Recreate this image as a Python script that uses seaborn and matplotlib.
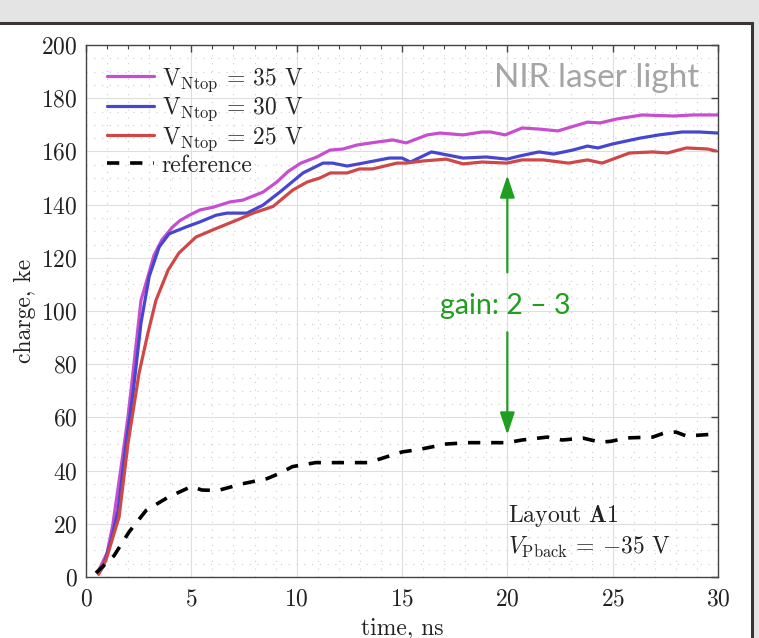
import numpy as np
import pandas as pd
import seaborn as sns
import matplotlib.pyplot as plt
from matplotlib.patches import Rectangle
from matplotlib.ticker import MultipleLocator

# charge vs time (time in ns, charge in ke)
t_35 = [0.57, 1.0, 1.27, 1.66, 1.99, 2.23, 2.61, 2.94, 3.23, 3.6, 4.1, 4.46, 4.9, 5.41, 6.03, 6.83,
        7.45, 8.4, 9.06, 9.6, 10.2, 10.96, 11.58, 12.2, 12.86, 13.8, 14.57, 15.2, 16.2, 16.8, 17.9,
        18.8, 19.2, 19.9, 20.7, 21.5, 22.4, 23.8, 24.4, 25.2, 26.4, 27.9, 28.8, 30.0]
q_35 = [2, 9, 19.5, 41, 60, 76.7, 104, 113, 121, 126.7, 131.5, 134, 136, 138, 139, 141,
        141.7, 144.7, 148.5, 152.5, 155.6, 157.9, 160.5, 160.9, 162.4, 163.5, 164.3, 163.2, 166.2, 166.9, 166.2,
        167.3, 167.3, 166.2, 168.8, 168.4, 167.7, 171, 170.7, 172.2, 173.7, 173.3, 173.7, 173.7]

t_30 = [0.6, 0.81, 1.2, 1.52, 1.9, 2.23, 2.61, 3.0, 3.47, 3.94, 4.75, 5.41, 6.17, 6.69, 7.64, 8.4,
        9.2, 10.3, 11.25, 11.7, 12.4, 13.15, 14.4, 15.0, 15.4, 16.4, 17.9, 19.0, 19.98, 20.6, 21.5,
        22.2, 23.1, 23.8, 24.3, 25.0, 26.3, 27.2, 28.3, 29.1, 30.0]
q_30 = [1.5, 3.8, 14, 25, 50, 69, 95.5, 113, 124, 129, 131.6, 133.5, 136, 136.8, 136.8, 139.8,
        144.7, 151.9, 155.6, 155.6, 154.5, 155.6, 157.5, 157.5, 156, 159.8, 157.5, 157.9, 157.1, 158.3, 159.8,
        159, 160.5, 162, 161.3, 162.8, 165, 166.2, 167.3, 167.3, 166.9]

t_25 = [0.6, 0.95, 1.57, 1.99, 2.52, 2.94, 3.32, 3.9, 4.41, 5.22, 6.17, 7.17, 7.93, 8.88, 9.82, 10.5,
        11.1, 11.6, 12.4, 12.98, 13.6, 14.76, 15.2, 16.0, 17.1, 17.9, 18.8, 19.98, 20.7, 21.7, 22.9,
        23.8, 24.5, 25.8, 26.9, 27.6, 28.5, 29.5, 29.9]
q_25 = [1, 6.4, 22.6, 50, 76.7, 91.7, 104, 115.4, 121.8, 127.8, 131, 134.2, 136.8, 139.3, 145.5, 148.5,
        150, 151.9, 151.9, 153.4, 153.4, 155.6, 155.6, 156.4, 157.1, 155.3, 156, 155.6, 156.8, 156.8, 155.6,
        156.8, 155.6, 159.4, 159.8, 159.4, 161.3, 160.9, 160.2]

t_ref = [0.47, 1.33, 2.05, 2.85, 3.9, 5.0, 5.5, 6.25, 7.4, 8.6, 9.2, 9.8, 10.9, 12.7, 13.4, 15.0,
         15.85, 17.1, 18.2, 20.0, 20.7, 21.9, 22.6, 23.6, 24.4, 24.9, 25.7, 26.9, 27.4, 28.0, 28.5, 29.8]
q_ref = [1.5, 8, 17, 25, 30, 34, 32.7, 32.5, 35, 37, 39, 41.5, 43, 43, 43, 47,
         48, 50, 50.5, 50.5, 51.5, 52.6, 51.5, 52.2, 50.7, 51, 52.3, 52.6, 54, 54.5, 53, 53.7]

labels = [r'V$_\mathrm{Ntop}$ = 35 V', r'V$_\mathrm{Ntop}$ = 30 V', r'V$_\mathrm{Ntop}$ = 25 V', 'reference']
colors = ['#c74fcf', '#4646cf', '#cf4747', 'black']

sns.set_style("white")
plt.rcParams['font.family'] = ['cmr10', 'DejaVu Serif']
plt.rcParams['mathtext.fontset'] = 'cm'
plt.rcParams['axes.formatter.use_mathtext'] = True

fig = plt.figure(figsize=(7.59, 6.38), dpi=100, facecolor='#e4e4e4')
# white card with dark border behind the plot
fig.patches.append(Rectangle((-0.01, -0.05), 752 / 759 + 0.01, 1.05 - 23 / 638, transform=fig.transFigure,
                             facecolor='white', edgecolor='#3a3434', linewidth=2.2, zorder=-5))

ax = fig.add_axes([86 / 759, 1 - 577 / 638, 632 / 759, 532 / 638])
ax.set_facecolor('white')

series = [(t_35, q_35), (t_30, q_30), (t_25, q_25), (t_ref, q_ref)]
for (t, q), lab, c in zip(series, labels, colors):
    df = pd.DataFrame({'time': t, 'charge': q})
    if lab == 'reference':
        sns.lineplot(data=df, x='time', y='charge', ax=ax, color=c, lw=2.6, label=lab, linestyle='--')
        ax.lines[-1].set_dashes((3.4, 3.0))
    else:
        sns.lineplot(data=df, x='time', y='charge', ax=ax, color=c, lw=2.3, label=lab)

ax.set_xlim(0, 30)
ax.set_ylim(0, 200)
ax.xaxis.set_major_locator(MultipleLocator(5))
ax.xaxis.set_minor_locator(MultipleLocator(1))
ax.yaxis.set_major_locator(MultipleLocator(20))
ax.yaxis.set_minor_locator(MultipleLocator(5))

ax.grid(which='major', color='#dedede', lw=0.8)
ax.grid(which='minor', color='#cccccc', lw=0.8, ls=(0, (1, 6)))
ax.set_axisbelow(True)

for sp in ax.spines.values():
    sp.set_color('#444444')
    sp.set_linewidth(1.0)

ax.tick_params(which='both', direction='in', top=True, right=True, colors='#444444',
               labelcolor='#222222', labelsize=17)
ax.tick_params(which='major', length=5, width=1)
ax.tick_params(axis='x', which='minor', length=3, width=0.8)
ax.tick_params(axis='y', which='minor', length=0)
ax.tick_params(axis='x', pad=8)
ax.tick_params(axis='y', pad=6)

ax.set_xlabel('time, ns', fontsize=17, color='#222222', labelpad=5)
ax.set_ylabel('charge, ke', fontsize=17, color='#222222', labelpad=4)

ax.legend(loc='upper left', bbox_to_anchor=(0.0, 1.0), frameon=False, fontsize=17,
          handlelength=2.0, handletextpad=0.3, labelspacing=0.08, borderaxespad=0.5)

ax.text(29.1, 187.5, 'NIR laser light', ha='right', va='center', color='#a5a5a5',
        fontsize=24, family='Lato')

green = '#1f9e1f'
ax.text(19.9, 102, 'gain: 2 \u2013 3', ha='center', va='center', color=green,
        fontsize=20.5, family='Lato')
ax.annotate('', xy=(20, 151), xytext=(20, 114.5),
            arrowprops=dict(arrowstyle='-|>,head_length=0.9,head_width=0.3', mutation_scale=15,
                            color=green, lw=1.6, shrinkA=0, shrinkB=0))
ax.annotate('', xy=(20, 53.5), xytext=(20, 92),
            arrowprops=dict(arrowstyle='-|>,head_length=0.9,head_width=0.3', mutation_scale=15,
                            color=green, lw=1.6, shrinkA=0, shrinkB=0))

ax.text(20.05, 23, r'Layout $\mathbf{A1}$', ha='left', va='center', fontsize=17, color='#222222')
ax.text(20.05, 11, r'$V_\mathrm{Pback}$ = $-$35 V', ha='left', va='center', fontsize=17, color='#222222')

fig.savefig('out.png', dpi=100, facecolor=fig.get_facecolor())
